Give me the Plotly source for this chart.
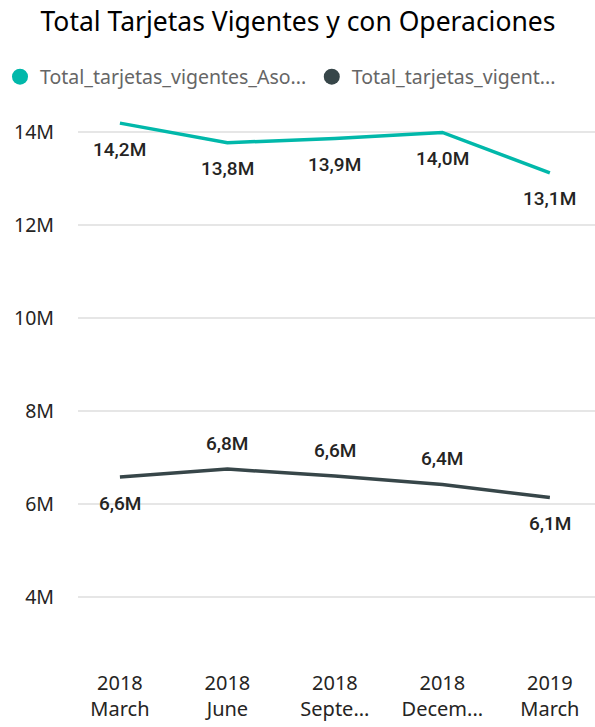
import plotly.graph_objects as go

categories = ["2018<br>March", "2018<br>June", "2018<br>Septe...", "2018<br>Decem...", "2019<br>March"]
asociadas = [14.19e6, 13.77e6, 13.86e6, 13.99e6, 13.12e6]
vigentes = [6.58e6, 6.75e6, 6.60e6, 6.42e6, 6.14e6]
asociadas_labels = ["14,2M", "13,8M", "13,9M", "14,0M", "13,1M"]
vigentes_labels = ["6,6M", "6,8M", "6,6M", "6,4M", "6,1M"]
asociadas_side = [-1, -1, -1, -1, -1]
vigentes_side = [-1, 1, 1, 1, -1]
series_names = ["Total_tarjetas_vigentes_Aso...", "Total_tarjetas_vigent..."]
tick_vals = [4e6, 6e6, 8e6, 10e6, 12e6, 14e6]
tick_text = ["4M", "6M", "8M", "10M", "12M", "14M"]

teal = "#01B8AA"
dark = "#374649"
label_font = dict(family="Roboto", size=19, color="#252423", weight=500)

fig = go.Figure()
fig.add_trace(go.Scatter(x=list(range(5)), y=asociadas, mode="lines",
                         line=dict(color=teal, width=3.5), showlegend=False, hoverinfo="skip"))
fig.add_trace(go.Scatter(x=list(range(5)), y=vigentes, mode="lines",
                         line=dict(color=dark, width=3.5), showlegend=False, hoverinfo="skip"))
for name, color, leg in zip(series_names, [teal, dark], ["legend", "legend2"]):
    fig.add_trace(go.Scatter(x=[None], y=[None], mode="markers", name=name, legend=leg,
                             marker=dict(color=color, size=16, symbol="circle")))

for values, labels, sides in [(asociadas, asociadas_labels, asociadas_side),
                              (vigentes, vigentes_labels, vigentes_side)]:
    for i, (v, t, s) in enumerate(zip(values, labels, sides)):
        fig.add_annotation(x=i, y=v, text=t, showarrow=False, xanchor="center",
                           yanchor="middle", yshift=26 * s, font=label_font)

legend_common = dict(orientation="h", xref="container", yref="container", xanchor="left",
                     y=(727 - 77) / 727, yanchor="middle",
                     font=dict(family="Noto Sans", size=19.5, color="#666666"),
                     itemsizing="trace", bgcolor="rgba(0,0,0,0)")

fig.update_layout(
    width=595, height=727,
    margin=dict(l=78, r=0, t=105, b=77, autoexpand=False),
    paper_bgcolor="white", plot_bgcolor="white",
    title=dict(text="Total Tarjetas Vigentes y con Operaciones", x=298 / 595, xanchor="center",
               y=(727 - 22) / 727, yanchor="middle", yref="container",
               font=dict(family="Noto Sans", size=26.5, color="#000000")),
    legend=dict(x=0.0, **legend_common),
    legend2=dict(x=0.524, **legend_common),
    xaxis=dict(tickmode="array", tickvals=list(range(5)), ticktext=categories,
               range=[-0.39, 4.42], showgrid=False, zeroline=False, showline=False,
               tickfont=dict(family="Noto Sans", size=20, color="#252423"), ticks="",
               ticklabelstandoff=19, automargin=False),
    yaxis=dict(tickmode="array", tickvals=tick_vals, ticktext=tick_text,
               range=[2.86e6, 14.58e6], showgrid=True, gridcolor="#E6E6E6", gridwidth=1.5,
               zeroline=False, showline=False, ticks="",
               tickfont=dict(family="Noto Sans", size=19.5, color="#252423"),
               ticklabelstandoff=23, automargin=False),
)

fig.write_html("out.html", config={"displayModeBar": False},
               post_script="document.body.style.margin='0';")
